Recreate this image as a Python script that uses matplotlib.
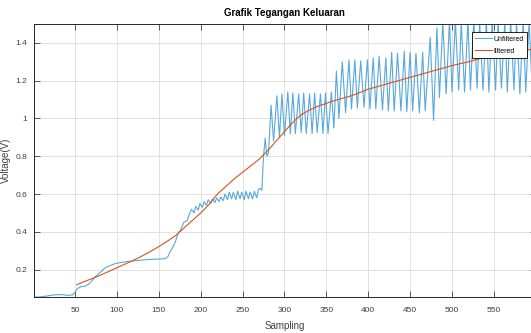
import matplotlib
matplotlib.use("Agg")
import matplotlib.pyplot as plt

plt.rcParams["font.family"] = ["Liberation Sans", "DejaVu Sans"]

# unfiltered signal (sample index, voltage)
early_x = [1, 8, 16, 24, 30, 36, 42, 47, 50, 53, 57, 62, 66, 70, 74, 80, 86, 92, 98,
           105, 112, 120, 128, 136, 145, 152, 158, 161, 164, 167, 170, 172, 174, 176,
           178, 180, 184, 187]
early_y = [0.055, 0.056, 0.060, 0.066, 0.068, 0.067, 0.064, 0.066, 0.080, 0.100, 0.110,
           0.113, 0.122, 0.140, 0.162, 0.185, 0.210, 0.222, 0.232, 0.238, 0.243, 0.246,
           0.250, 0.253, 0.255, 0.256, 0.258, 0.270, 0.300, 0.320, 0.350, 0.380, 0.400,
           0.410, 0.430, 0.452, 0.460, 0.500]

ripple1_x = [189, 192, 194, 197, 199, 202, 204, 207, 209, 212, 214, 217, 219, 222, 224,
             227, 229, 232, 234, 237, 239, 242, 244, 247, 249, 252, 254, 257, 259, 262,
             264, 267, 269]
ripple1_y = [0.52, 0.50, 0.535, 0.515, 0.55, 0.53, 0.56, 0.54, 0.57, 0.55, 0.575, 0.555,
             0.58, 0.56, 0.585, 0.565, 0.60, 0.57, 0.61, 0.575, 0.61, 0.57, 0.615, 0.575,
             0.61, 0.57, 0.615, 0.575, 0.61, 0.575, 0.615, 0.58, 0.625]

jump_x = [271, 273, 275, 277, 279, 281]
jump_y = [0.63, 0.62, 0.80, 0.895, 0.80, 0.82]

ripple2_x = [284, 287, 291, 294, 297, 300, 304, 307, 310, 313, 317, 320, 323, 326, 330,
             333, 336, 339, 343, 346, 349, 352, 356, 359]
ripple2_y = [1.07, 0.88, 1.12, 0.90, 1.13, 0.91, 1.14, 0.92, 1.135, 0.92, 1.13, 0.925,
             1.135, 0.92, 1.13, 0.92, 1.135, 0.925, 1.13, 0.92, 1.135, 0.92, 1.14, 0.95]

ripple3_x = [362, 365, 369, 373, 377, 380, 384, 387, 391, 395, 399, 402, 406, 409, 413,
             417, 421, 424, 428, 431, 435, 439, 443, 446, 450, 453, 457, 461, 465, 468]
ripple3_y = [1.25, 1.00, 1.30, 1.03, 1.31, 1.05, 1.31, 1.055, 1.305, 1.06, 1.31, 1.05,
             1.32, 1.05, 1.33, 1.045, 1.32, 1.04, 1.35, 1.04, 1.345, 1.04, 1.355, 1.035,
             1.35, 1.04, 1.345, 1.03, 1.35, 1.04]

ripple4_x = [474, 478, 482, 485, 489, 493, 497, 500, 504, 508, 511, 515, 519, 522, 526,
             530, 533, 537, 541, 544, 548, 552, 555, 559, 563, 566, 570, 574, 577, 581,
             585, 588, 592, 596, 599]
ripple4_y = [1.43, 0.99, 1.48, 1.11, 1.51, 1.13, 1.52, 1.14, 1.52, 1.15, 1.51, 1.14,
             1.52, 1.15, 1.52, 1.16, 1.51, 1.15, 1.52, 1.14, 1.52, 1.15, 1.51, 1.16,
             1.52, 1.14, 1.52, 1.15, 1.51, 1.13, 1.52, 1.14, 1.51, 1.13, 1.52]

# filtered signal
filt_x = [52, 60, 70, 80, 90, 100, 110, 120, 130, 140, 150, 160, 170, 180, 190, 200,
          210, 220, 230, 240, 250, 260, 270, 280, 290, 300, 310, 320, 330, 340, 350,
          360, 380, 400, 420, 440, 460, 480, 500, 520, 540, 560, 580, 600]
filt_y = [0.12, 0.135, 0.152, 0.17, 0.19, 0.21, 0.23, 0.25, 0.272, 0.296, 0.322, 0.35,
          0.38, 0.42, 0.46, 0.50, 0.545, 0.60, 0.64, 0.68, 0.715, 0.75, 0.785, 0.83,
          0.88, 0.93, 0.98, 1.02, 1.045, 1.065, 1.08, 1.095, 1.12, 1.155, 1.18, 1.205,
          1.23, 1.255, 1.28, 1.30, 1.325, 1.34, 1.355, 1.37]

x_ticks = [50, 100, 150, 200, 250, 300, 350, 400, 450, 500, 550]
y_ticks = [0.2, 0.4, 0.6, 0.8, 1.0, 1.2, 1.4]
y_tick_labels = ["0.2", "0.4", "0.6", "0.8", "1", "1.2", "1.4"]

raw_x = early_x + ripple1_x + jump_x + ripple2_x + ripple3_x + ripple4_x
raw_y = early_y + ripple1_y + jump_y + ripple2_y + ripple3_y + ripple4_y

fig = plt.figure(figsize=(5.31, 3.33), dpi=100)
ax = fig.add_axes([0.064, 0.108, 0.945, 0.820])

ax.plot(raw_x, raw_y, color="#58a8dc", lw=0.8, label="Unfiltered")
ax.plot(filt_x, filt_y, color="#d95319", lw=0.8, label="filtered")

ax.set_xlim(1, 600)
ax.set_ylim(0.055, 1.5)
ax.set_xticks(x_ticks)
ax.set_yticks(y_ticks)
ax.set_yticklabels(y_tick_labels)
ax.grid(True, color="#e2e2e2", lw=0.7)
ax.set_axisbelow(True)
ax.tick_params(direction="in", top=True, right=True, length=4, width=0.6,
               labelsize=6, colors="#404040")
ax.tick_params(axis="x", pad=7)
ax.tick_params(axis="y", pad=5)
for s in ax.spines.values():
    s.set_color("#262626")
    s.set_linewidth(0.7)

ax.set_title("Grafik Tegangan Keluaran", fontsize=7, fontweight="bold", pad=6)
ax.set_xlabel("Sampling", fontsize=7, color="#404040", labelpad=5)
ax.set_ylabel("Voltage(V)", fontsize=7, color="#404040", labelpad=3)

leg = ax.legend(loc="upper right", fontsize=5, fancybox=False, framealpha=1,
                edgecolor="black", borderaxespad=1.2, handlelength=2.4,
                handletextpad=0.3, borderpad=0.5, labelspacing=0.7)
leg.get_frame().set_linewidth(0.6)

fig.savefig("out.png", dpi=100)
